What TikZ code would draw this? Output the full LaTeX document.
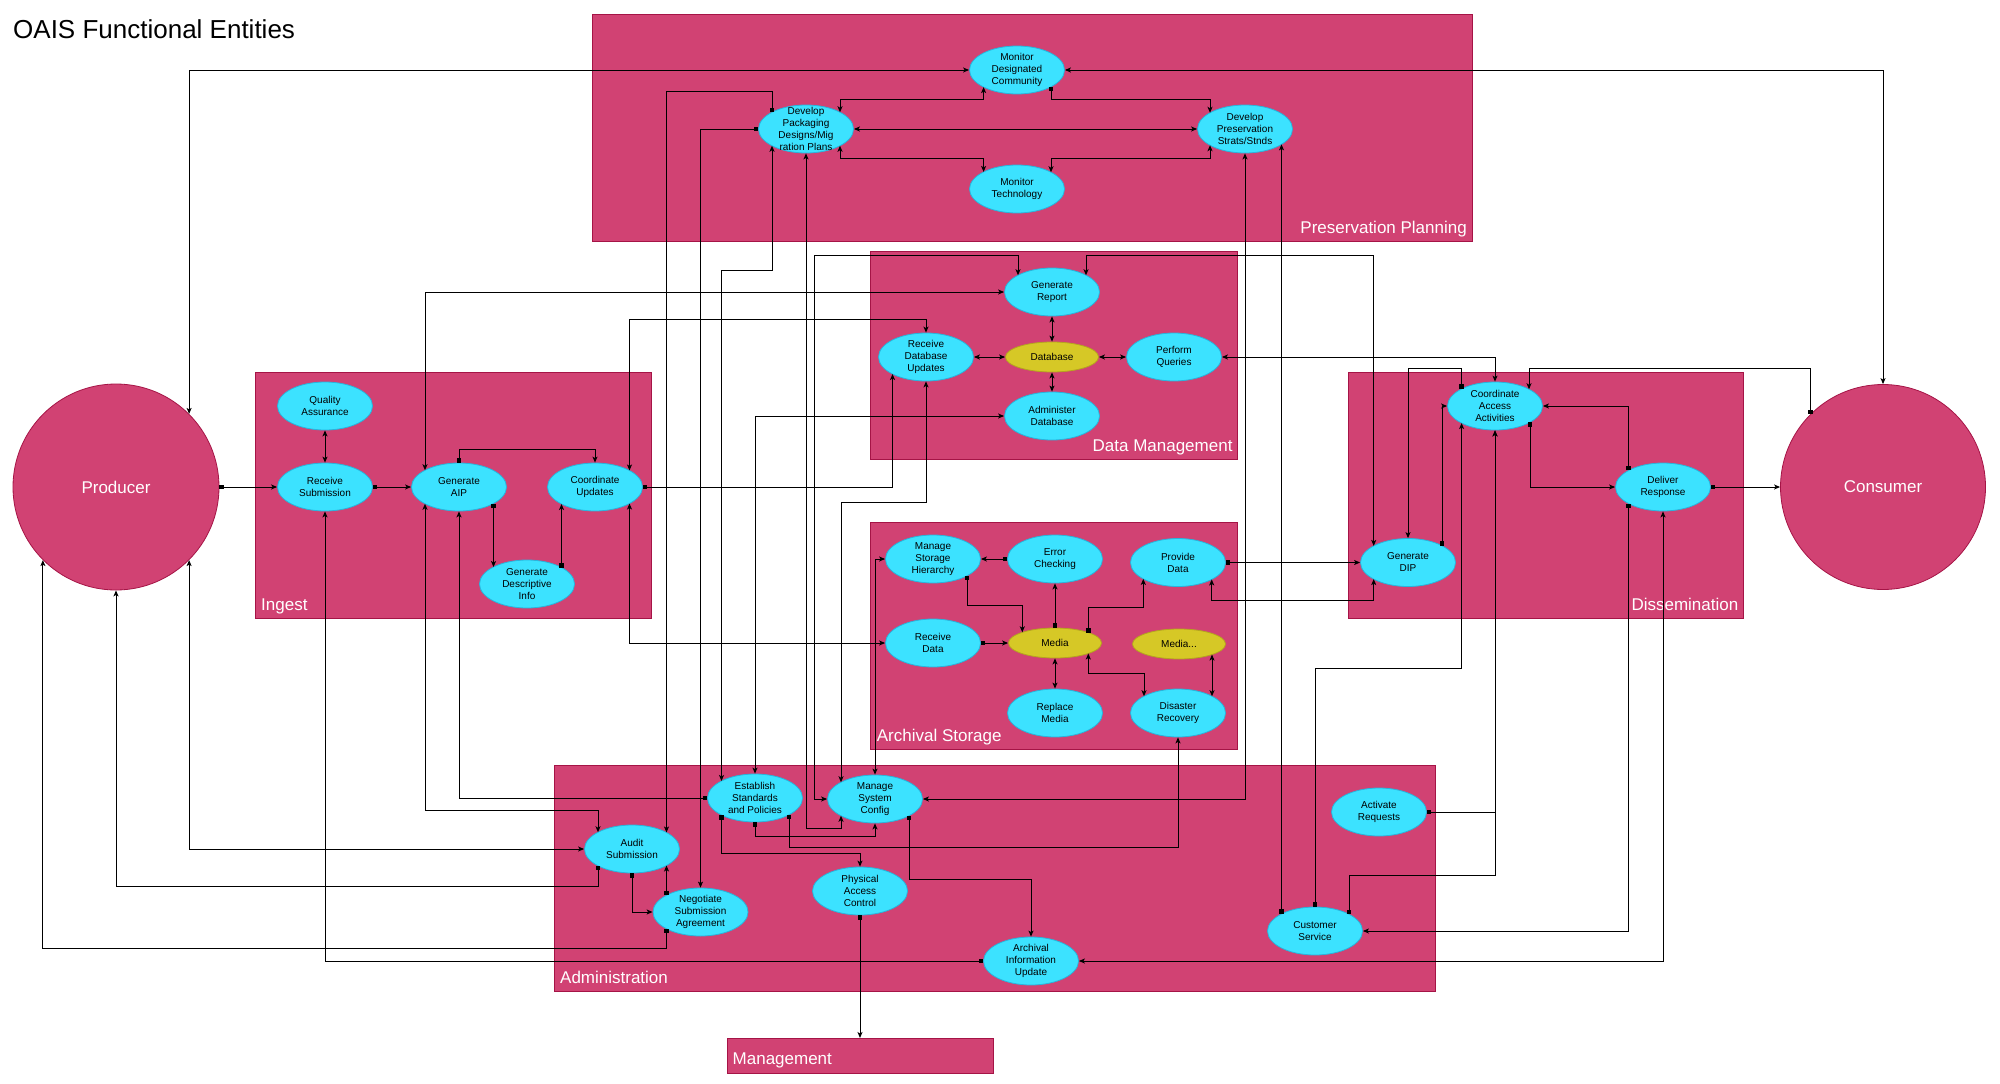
\documentclass[tikz,border=0pt]{standalone}
\usepackage{fontspec}
\setmainfont{Liberation Sans}
\usetikzlibrary{shapes.geometric,arrows.meta,calc}
\definecolor{boxfill}{RGB}{209,66,115}
\definecolor{boxline}{RGB}{165,20,70}
\definecolor{cyanfill}{RGB}{60,226,255}
\definecolor{cyanline}{RGB}{40,180,220}
\definecolor{yelfill}{RGB}{214,200,38}
\definecolor{yelline}{RGB}{180,165,30}
\newcommand\ETop[3]{\coordinate (#3) at ($(#1.center)+({#2},{-24*sqrt(1-((#2)/47.5)*((#2)/47.5))})$);}
\newcommand\EBot[3]{\coordinate (#3) at ($(#1.center)+({#2},{24*sqrt(1-((#2)/47.5)*((#2)/47.5))})$);}
\newcommand\YTop[3]{\coordinate (#3) at ($(#1.center)+({#2},{-15*sqrt(1-((#2)/46.5)*((#2)/46.5))})$);}
\newcommand\YBot[3]{\coordinate (#3) at ($(#1.center)+({#2},{15*sqrt(1-((#2)/46.5)*((#2)/46.5))})$);}
\newcommand\Proc[3]{\node[procshape] (#1) at (#2) {};\node[proctext] (#1t) at (#1.center) {#3};}
\newcommand\Store[3]{\node[storeshape] (#1) at (#2) {};\node[proctext] (#1t) at (#1.center) {#3};}
\tikzset{
  area/.style={draw=boxline, fill=boxfill, line width=0.8pt, inner sep=0pt, outer sep=0pt, anchor=north west},
  arealabel/.style={text=white, font=\fontsize{17}{20}\selectfont, inner sep=0pt},
  procshape/.style={ellipse, draw=cyanline, fill=cyanfill, line width=0.8pt, minimum width=95pt, minimum height=48pt, inner sep=0pt},
  storeshape/.style={ellipse, draw=yelline, fill=yelfill, line width=0.8pt, minimum width=93pt, minimum height=30pt, inner sep=0pt},
  proctext/.style={font=\fontsize{10}{12}\selectfont, align=center, inner sep=0pt},
  ext/.style={circle, draw=boxline, fill=boxfill, line width=0.8pt, inner sep=0pt, text=white, font=\fontsize{17}{20}\selectfont},
  link/.style={line width=1pt, black},
  sa/.style={link, {Square[length=4.5pt,width=4.5pt]}-{Stealth[length=6pt,width=5pt,inset=1.5pt]}},
  aa/.style={link, {Stealth[length=6pt,width=5pt,inset=1.5pt]}-{Stealth[length=6pt,width=5pt,inset=1.5pt]}},
}
\begin{document}
\begin{tikzpicture}[x=1pt,y=-1pt]
\fill[white] (0,0) rectangle (2000,1084);
\useasboundingbox (0,0) rectangle (2000,1084);

\node[anchor=base west, inner sep=0pt, font=\fontsize{26}{30}\selectfont] (title) at (13,38) {OAIS Functional Entities};

% areas
\node[area, minimum width=880pt, minimum height=227pt] (ppbox) at (592,14) {};
\node[area, minimum width=367pt, minimum height=207.5pt] (dmbox) at (870.7,251.5) {};
\node[area, minimum width=367pt, minimum height=226.3pt] (asbox) at (870.7,522.7) {};
\node[area, minimum width=396pt, minimum height=246.5pt] (ingbox) at (255,372) {};
\node[area, minimum width=395.5pt, minimum height=246.5pt] (disbox) at (1348,372) {};
\node[area, minimum width=881pt, minimum height=226pt] (admbox) at (554,765) {};
\node[area, minimum width=265.5pt, minimum height=35pt] (mgmt) at (727.5,1038) {};

\node[arealabel, anchor=base east] (pplbl) at ($(ppbox.south east)+(-5,-8)$) {Preservation Planning};
\node[arealabel, anchor=base east] (dmlbl) at ($(dmbox.south east)+(-5,-8)$) {Data Management};
\node[arealabel, anchor=base west] (aslbl) at ($(asbox.south west)+(6,-8)$) {Archival Storage};
\node[arealabel, anchor=base west] (inglbl) at ($(ingbox.south west)+(6,-8)$) {Ingest};
\node[arealabel, anchor=base east] (dislbl) at ($(disbox.south east)+(-5,-8)$) {Dissemination};
\node[arealabel, anchor=base west] (admlbl) at ($(admbox.south west)+(6,-8)$) {Administration};
\node[arealabel, anchor=base west] (mgmtlbl) at ($(mgmt.south west)+(5,-9)$) {Management};

% external entities
\node[ext, minimum size=206pt] (prod) at (116,487) {Producer};
\node[ext, minimum size=205pt] (cons) at (1883,487) {Consumer};

% processes
\Proc{mdc}{1017,70}{Monitor\\Designated\\Community}
\Proc{dpk}{806,129}{Develop\\Packaging\\Designs/Mig\\ration Plans}
\Proc{dps}{1245,129}{Develop\\Preservation\\Strats/Stnds}
\Proc{mt}{1017,189}{Monitor\\Technology}
\Proc{gr}{1052,292}{Generate\\Report}
\Proc{rdu}{926,357}{Receive\\Database\\Updates}
\Store{db}{1052,357}{Database}
\Proc{pq}{1174,357}{Perform\\Queries}
\Proc{adb}{1052,416}{Administer\\Database}
\Proc{msh}{933,559}{Manage\\Storage\\Hierarchy}
\Proc{ec}{1055,559}{Error\\Checking}
\Proc{pd}{1178,562.5}{Provide\\Data}
\Proc{rd}{933,643}{Receive\\Data}
\Store{med}{1055,643}{Media}
\Store{medb}{1179,644}{Media...}
\Proc{rm}{1055,713}{Replace\\Media}
\Proc{dr}{1178,713}{Disaster\\Recovery}
\Proc{qa}{325,406}{Quality\\Assurance}
\Proc{rs}{325,487}{Receive\\Submission}
\Proc{gaip}{459,487}{Generate\\AIP}
\Proc{cu}{595,487}{Coordinate\\Updates}
\Proc{gdi}{527,584}{Generate\\Descriptive\\Info}
\Proc{caa}{1495,406}{Coordinate\\Access\\Activities}
\Proc{dresp}{1663,487}{Deliver\\Response}
\Proc{gdip}{1408,562.5}{Generate\\DIP}
\Proc{es}{755,798}{Establish\\Standards\\and Policies}
\Proc{msc}{875,799}{Manage\\System\\Config}
\Proc{aud}{632,849}{Audit\\Submission}
\Proc{nsa}{700.5,912}{Negotiate\\Submission\\Agreement}
\Proc{pac}{860,891}{Physical\\Access\\Control}
\Proc{aiu}{1031,961}{Archival\\Information\\Update}
\Proc{ar}{1379,812}{Activate\\Requests}
\Proc{cs}{1315,931}{Customer\\Service}

% attachment points
\EBot{mdc}{-33.4}{mdcB1} \EBot{mdc}{34}{mdcB2}
\ETop{dpk}{34}{dpkT1} \ETop{dpk}{-34}{dpkT2} \EBot{dpk}{34}{dpkB1} \EBot{dpk}{-34}{dpkB2}
\ETop{dps}{-35}{dpsT1} \EBot{dps}{-35}{dpsB1} \EBot{dps}{36.5}{dpsB2}
\ETop{mt}{-33.4}{mtT1} \ETop{mt}{34}{mtT2}
\ETop{aud}{34.5}{audT2} \ETop{aud}{-34}{audT1} \EBot{aud}{-34}{audB1} \EBot{aud}{34.5}{audB2}
\ETop{es}{-33.5}{esT1} \EBot{es}{-33.5}{esB1} \EBot{es}{34}{esB2}
\EBot{msc}{-34}{mscB1} \ETop{msc}{-34}{mscT1} \EBot{msc}{34}{mscB2}
\ETop{cs}{-33.5}{csT1} \ETop{cs}{34}{csT2}
\EBot{gaip}{34.5}{gaB1} \ETop{gaip}{-34}{gaT1} \EBot{gaip}{-34}{gaB2}
\ETop{gdi}{-33.5}{gdiT1} \ETop{gdi}{34.5}{gdiT2}
\EBot{cu}{-33.5}{cuB1} \ETop{cu}{34.5}{cuT1} \EBot{cu}{34.5}{cuB2}
\EBot{rdu}{-33.5}{rduB1}
\EBot{nsa}{-34}{nsaB1} \ETop{nsa}{-34}{nsaT1}
\ETop{gr}{-34}{grT1} \ETop{gr}{34}{grT2}
\ETop{gdip}{-34.3}{gdipT1} \EBot{gdip}{-34.3}{gdipB1} \ETop{gdip}{34}{gdipT2}
\EBot{msh}{34}{mshB1}
\YTop{med}{-32.7}{medT1} \YTop{med}{33.3}{medT2} \YBot{med}{33.3}{medB1}
\YBot{medb}{33}{medbB1}
\EBot{pd}{-34.7}{pdB1} \EBot{pd}{33.7}{pdB2}
\ETop{dr}{-34}{drT1} \ETop{dr}{34}{drT2}
\ETop{caa}{-33.4}{caaT1} \ETop{caa}{34}{caaT2} \EBot{caa}{35}{caaB1} \EBot{caa}{-33.4}{caaB2}
\ETop{dresp}{-34.4}{drsT1} \EBot{dresp}{-34.4}{drsB1}

% Preservation Planning
\draw[aa] (mdcB1) -- (mdcB1 |- 0,99.3) -| (dpkT1);
\draw[sa] (mdcB2) -- (mdcB2 |- 0,99.3) -| (dpsT1);
\draw[aa] (dpk.east) -- (dps.west);
\draw[aa] (dpkB1) -- (dpkB1 |- 0,158.3) -| (mtT1);
\draw[aa] (dpsB1) -- (dpsB1 |- 0,158.3) -| (mtT2);
\draw[aa] (prod.45) |- (mdc.west);
\draw[aa] (mdc.east) -| (cons.north);
\draw[sa] (dpkT2) -- (dpkT2 |- 0,91.3) -| (audT2);
\draw[sa] (dpk.west) -| (nsa.north);
\draw[aa] (dpkB2) -- (dpkB2 |- 0,270.5) -| (esT1);
\draw[aa] (dpk.south) -- (dpk.south |- 0,828) -| (mscB1);
\draw[aa] (dps.south) |- (msc.east);
\draw[sa] (csT1) -- (dpsB2);

% Ingest
\draw[sa] (prod.east) -- (rs.west);
\draw[sa] (rs.east) -- (gaip.west);
\draw[aa] (qa.south) -- (rs.north);
\draw[sa] (gaip.north) -- (gaip.north |- 0,449.3) -| (cu.north);
\draw[sa] (gaB1) -- (gdiT1);
\draw[sa] (gdiT2) -- (cuB1);
\draw[aa] (gaT1) |- (gr.west);
\draw[aa] (cuT1) -- (cuT1 |- 0,319.3) -| (rdu.north);
\draw[sa] (cu.east) -| (rduB1);
\draw[aa] (cuB2) |- (rd.west);
\draw[sa] (aiu.west) -| (rs.south);
\draw[sa] (es.west) -| (gaip.south);
\draw[aa] (gaB2) -- (gaB2 |- 0,810.3) -| (audT1);

% Producer
\draw[sa] (nsaB1) -- (nsaB1 |- 0,948.3) -| (prod.-135);
\draw[sa] (audB1) -- (audB1 |- 0,886) -| (prod.south);
\draw[aa] (prod.-45) |- (aud.west);

% Administration
\draw[sa] (aud.south) |- (nsa.west);
\draw[sa] (nsaT1) -- (audB2);
\draw[sa] (esB1) -- (esB1 |- 0,853.3) -| (pac.north);
\draw[sa] (es.south) -- (es.south |- 0,836) -| (msc.south);
\draw[sa] (esB2) -- (esB2 |- 0,847.3) -| (dr.south);
\draw[sa] (mscB2) -- (mscB2 |- 0,879.3) -| (aiu.north);
\draw[sa] (pac.south) -- (pac.south |- mgmt.north);
\draw[aa] (adb.west) -| (es.north);
\draw[aa] (rdu.south) -- (rdu.south |- 0,502.5) -| (mscT1);
\draw[aa] (grT1) |- (814.2,255.5) |- (msc.west);
\draw[aa] (msh.west) -| (msc.north);
\draw[aa] (grT2) -- (grT2 |- 0,255.5) -| (gdipT1);
\draw[aa] (pq.east) -| (caa.north);

% Data Management
\draw[aa] (gr.south) -- (db.north);
\draw[aa] (rdu.east) -- (db.west);
\draw[aa] (db.east) -- (pq.west);
\draw[aa] (db.south) -- (adb.north);

% Archival Storage
\draw[sa] (ec.west) -- (msh.east);
\draw[sa] (mshB1) -- (mshB1 |- 0,605.7) -| (medT1);
\draw[sa] (med.north) -- (ec.south);
\draw[sa] (medT2) -- (medT2 |- 0,607.3) -| (pdB1);
\draw[sa] (rd.east) -- (med.west);
\draw[aa] (med.south) -- (rm.north);
\draw[aa] (medB1) -- (medB1 |- 0,673.3) -| (drT1);
\draw[aa] (medbB1) -- (drT2);
\draw[sa] (pd.east) -- (gdip.west);
\draw[aa] (gdipB1) -- (gdipB1 |- 0,600) -| (pdB2);

% Dissemination
\draw[sa] (caaT1) -- (caaT1 |- 0,368.3) -| (gdip.north);
\draw[sa] (gdipT2) |- (caa.west);
\draw[sa] (cons.135) -- (cons.135 |- 0,368.3) -| (caaT2);
\draw[sa] (drsT1) |- (caa.east);
\draw[sa] (caaB1) |- (dresp.west);
\draw[sa] (dresp.east) -- (cons.west);
\draw[sa] (cs.north) -- (cs.north |- 0,668.3) -| (caaB2);
\draw[sa] (csT2) -- (csT2 |- 0,875) -| (caa.south);
\draw[sa] (ar.east) -| (caa.south);
\draw[sa] (drsB1) |- (cs.east);
\draw[aa] (dresp.south) |- (aiu.east);
\end{tikzpicture}
\end{document}
